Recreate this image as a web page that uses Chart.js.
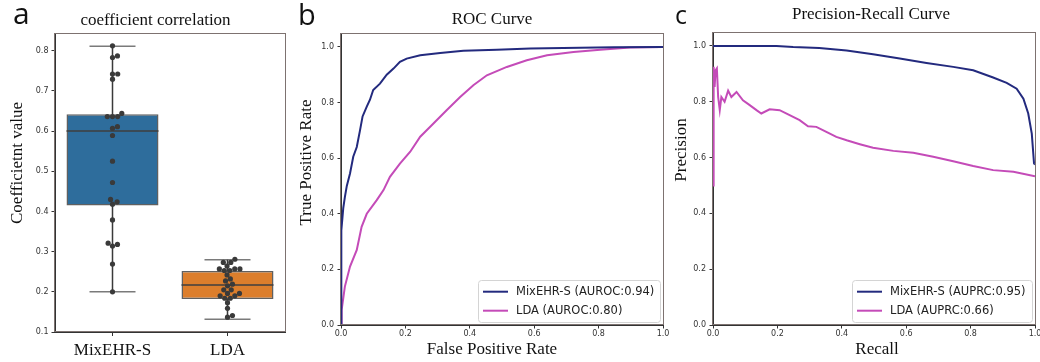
<!DOCTYPE html>
<html lang="en">
<head>
  <meta charset="UTF-8">
  <title>MixEHR-S vs LDA</title>
  <style>
    body { margin: 0; background: #fff; }
    .panel { position: absolute; left: 0; top: 0; }
  </style>
</head>
<body>
<canvas id="coefChart" class="panel" width="1040" height="362"></canvas>
<canvas id="rocChart" class="panel" width="1040" height="362"></canvas>
<canvas id="prChart" class="panel" width="1040" height="362"></canvas>

<script src="https://cdn.jsdelivr.net/npm/chart.js@4.4.1/dist/chart.umd.min.js"></script>
<script>
  // ---- data ----
  const categories = ['MixEHR-S', 'LDA'];
  const boxMin = [0.200, 0.132];
  const boxQ1 = [0.415, 0.182];
  const boxMedian = [0.600, 0.217];
  const boxQ3 = [0.642, 0.252];
  const boxMax = [0.811, 0.280];
  const mixehrCoef = [0.812, 0.787, 0.783, 0.742, 0.742, 0.729, 0.644, 0.636, 0.636, 0.636, 0.611, 0.607,
    0.589, 0.525, 0.472, 0.430, 0.424, 0.418, 0.379, 0.321, 0.318, 0.314, 0.269, 0.200];
  const ldaCoef = [0.281, 0.273, 0.273, 0.264, 0.257, 0.257, 0.257, 0.253, 0.253, 0.242, 0.232, 0.227,
    0.219, 0.215, 0.205, 0.205, 0.196, 0.196, 0.190, 0.190, 0.184, 0.184, 0.173, 0.159, 0.141, 0.137];
  const coefTicks = [0.1, 0.2, 0.3, 0.4, 0.5, 0.6, 0.7, 0.8];

  const models = ['MixEHR-S', 'LDA'];
  const rocAuc = [0.94, 0.80];
  const prAuc = [0.95, 0.66];
  const rateTicks = [0, 0.2, 0.4, 0.6, 0.8, 1.0];

  const rocMixFpr = [0, 0, 0.002, 0.004, 0.007, 0.012, 0.018, 0.028, 0.038, 0.049, 0.059, 0.067, 0.080, 0.090,
    0.100, 0.121, 0.142, 0.163, 0.183, 0.204, 0.246, 0.308, 0.380, 0.484, 0.588, 0.690, 0.847, 1.0];
  const rocMixTpr = [0, 0.25, 0.34, 0.38, 0.42, 0.46, 0.50, 0.545, 0.605, 0.64, 0.70, 0.75, 0.785, 0.81,
    0.845, 0.868, 0.90, 0.922, 0.946, 0.958, 0.97, 0.978, 0.986, 0.99, 0.994, 0.996, 0.999, 1.0];
  const rocLdaFpr = [0, 0.002, 0.012, 0.028, 0.049, 0.064, 0.080, 0.111, 0.132, 0.152, 0.183, 0.215, 0.246,
    0.277, 0.328, 0.370, 0.411, 0.453, 0.515, 0.577, 0.640, 0.722, 0.805, 0.898, 1.0];
  const rocLdaTpr = [0, 0.054, 0.138, 0.21, 0.27, 0.353, 0.40, 0.449, 0.485, 0.533, 0.58, 0.623, 0.677,
    0.713, 0.772, 0.82, 0.862, 0.898, 0.928, 0.952, 0.97, 0.982, 0.99, 0.998, 1.0];

  const prMixRecall = [0, 0.197, 0.249, 0.330, 0.415, 0.497, 0.580, 0.663, 0.746, 0.808, 0.870, 0.912,
    0.943, 0.964, 0.979, 0.990, 0.997, 1.0];
  const prMixPrecision = [1.0, 1.0, 0.996, 0.993, 0.984, 0.97, 0.955, 0.939, 0.925, 0.913, 0.887, 0.868,
    0.847, 0.811, 0.758, 0.686, 0.579, 0.575];
  const prLdaRecall = [0, 0.001, 0.003, 0.005, 0.008, 0.012, 0.016, 0.021, 0.026, 0.036, 0.047, 0.057, 0.073,
    0.093, 0.114, 0.135, 0.150, 0.176, 0.207, 0.238, 0.269, 0.295, 0.321, 0.352, 0.383, 0.415, 0.456, 0.497,
    0.560, 0.622, 0.684, 0.746, 0.808, 0.870, 0.933, 1.0];
  const prLdaPrecision = [0.50, 0.89, 0.925, 0.853, 0.913, 0.92, 0.817, 0.77, 0.817, 0.80, 0.84, 0.817, 0.835,
    0.805, 0.788, 0.77, 0.758, 0.773, 0.77, 0.752, 0.734, 0.712, 0.71, 0.692, 0.674, 0.662, 0.648, 0.635,
    0.624, 0.617, 0.603, 0.587, 0.57, 0.555, 0.549, 0.533];

  // ---- styling ----
  const SERIF = '"Liberation Serif", "Times New Roman", serif';
  const SANS = '"DejaVu Sans", sans-serif';
  const INK = '#333';
  const NAVY = '#232a7e';
  const MAGENTA = '#c44bb8';
  const BOX_COLORS = ['#2e6d9c', '#dc7e2c'];
  const BOX_WIDTH = 0.8;

  Chart.defaults.font.family = SANS;
  Chart.defaults.color = INK;
  Chart.defaults.animation = false;
  Chart.defaults.plugins.legend.display = false;
  Chart.defaults.plugins.tooltip.enabled = false;

  const toPoints = (xs, ys) => xs.map((x, i) => ({x, y: ys[i]}));

  // box around the plotting area
  const framePlugin = {
    id: 'frame',
    afterDraw(chart) {
      const {ctx, chartArea: a} = chart;
      ctx.save();
      ctx.strokeStyle = '#7d7270';
      ctx.lineWidth = 1;
      ctx.strokeRect(Math.round(a.left) - 0.5, Math.round(a.top) + 0.5,
        Math.round(a.right - a.left) + 1, Math.round(a.bottom - a.top) - 1);
      ctx.restore();
    }
  };

  // panel letter, title and axis titles (the figure has them off-centre)
  const panelText = {
    id: 'panelText',
    afterDraw(chart, args, o) {
      const ctx = chart.ctx;
      ctx.save();
      ctx.fillStyle = '#111';
      ctx.font = o.letterFont;
      ctx.textAlign = 'left';
      ctx.textBaseline = 'alphabetic';
      ctx.fillText(o.letter, o.letterX, o.letterY);
      ctx.font = '17px ' + SERIF;
      ctx.textAlign = 'center';
      ctx.textBaseline = 'middle';
      ctx.fillText(o.title, o.titleX, o.titleY);
      if (o.xTitle) ctx.fillText(o.xTitle, o.xTitleX, o.xTitleY);
      ctx.translate(o.yTitleX, o.yTitleY);
      ctx.rotate(-Math.PI / 2);
      ctx.fillText(o.yTitle, 0, 0);
      ctx.restore();
    }
  };

  // matplotlib-like legend in the lower right corner
  const insetLegend = {
    id: 'insetLegend',
    afterDatasetsDraw(chart) {
      const {ctx, chartArea: a} = chart;
      const sets = chart.data.datasets;
      ctx.save();
      ctx.font = '11.5px ' + SANS;
      const textW = Math.max(...sets.map(d => ctx.measureText(d.label).width));
      const w = Math.round(38 + textW + 6), h = 42;
      const x = Math.round(a.right - 3 - w), y = Math.round(a.bottom - 3 - h);
      ctx.beginPath();
      ctx.roundRect(x + 0.5, y + 0.5, w, h, 3);
      ctx.fillStyle = 'rgba(255,255,255,0.85)';
      ctx.fill();
      ctx.strokeStyle = '#d4d4d4';
      ctx.lineWidth = 1;
      ctx.stroke();
      sets.forEach((d, i) => {
        const cy = y + 11.7 + i * 19;
        ctx.strokeStyle = d.borderColor;
        ctx.lineWidth = 2;
        ctx.beginPath();
        ctx.moveTo(x + 5, cy);
        ctx.lineTo(x + 30, cy);
        ctx.stroke();
        ctx.fillStyle = '#222';
        ctx.textAlign = 'left';
        ctx.textBaseline = 'middle';
        ctx.fillText(d.label, x + 38, cy);
      });
      ctx.restore();
    }
  };

  function rateScales() {
    const grid = {drawOnChartArea: false, tickLength: 3.5, color: INK};
    const fixTicks = s => { s.ticks = rateTicks.map(v => ({value: v})); };
    return {
      x: {
        type: 'linear', min: 0, max: 1, grid, border: {color: INK},
        afterBuildTicks: fixTicks,
        ticks: {font: {size: 8}, padding: 1, autoSkip: false, maxRotation: 0, callback: v => v.toFixed(1)},
        afterFit: s => { s.height = 37; s.paddingLeft = 0; s.paddingRight = 0; }
      },
      y: {
        type: 'linear', min: 0, max: 1.05, grid, border: {color: INK},
        afterBuildTicks: fixTicks,
        ticks: {font: {size: 8}, padding: 3.5, autoSkip: false, callback: v => v.toFixed(1)},
        afterFit: s => { s.width = 22; s.paddingTop = 0; s.paddingBottom = 0; }
      }
    };
  }

  function curve(label, color, xs, ys) {
    return {
      label, data: toPoints(xs, ys), showLine: true, borderColor: color, backgroundColor: color,
      borderWidth: 2, pointRadius: 0, tension: 0
    };
  }

  // ---- panel a: box plot with swarm ----
  const whiskerData = [], capData = [], medianData = [];
  categories.forEach((c, i) => {
    const cap = BOX_WIDTH / 4, half = BOX_WIDTH / 2;
    whiskerData.push({x: i, y: boxMin[i]}, {x: i, y: boxQ1[i]}, {x: i, y: null},
      {x: i, y: boxQ3[i]}, {x: i, y: boxMax[i]}, {x: i, y: null});
    capData.push({x: i - cap, y: boxMin[i]}, {x: i + cap, y: boxMin[i]}, {x: i, y: null},
      {x: i - cap, y: boxMax[i]}, {x: i + cap, y: boxMax[i]}, {x: i, y: null});
    medianData.push({x: i - half, y: boxMedian[i]}, {x: i + half, y: boxMedian[i]}, {x: i, y: null});
  });
  const coefSeries = [mixehrCoef, ldaCoef];

  const coefChart = new Chart(document.getElementById('coefChart'), {
    type: 'scatter',
    data: {
      datasets: [
        ...coefSeries.map((vals, i) => ({
          label: categories[i], order: 0, data: vals.map(v => ({x: i, y: v})),
          pointRadius: 2.6, pointBackgroundColor: '#3a3a3a', pointBorderWidth: 0
        })),
        {type: 'scatter', order: 1, data: medianData, showLine: true, spanGaps: false, pointRadius: 0,
          borderColor: '#3f3f3f', borderWidth: 1.5},
        {type: 'scatter', order: 2, data: whiskerData, showLine: true, spanGaps: false, pointRadius: 0,
          borderColor: '#3a3a3a', borderWidth: 1.5},
        {type: 'scatter', order: 2, data: capData, showLine: true, spanGaps: false, pointRadius: 0,
          borderColor: '#7a7a7a', borderWidth: 1.5},
        {type: 'bar', order: 3, data: categories.map((c, i) => ({x: i, y: [boxQ1[i], boxQ3[i]]})),
          backgroundColor: BOX_COLORS, borderColor: '#606060', borderWidth: 1.5, borderSkipped: false,
          categoryPercentage: BOX_WIDTH, barPercentage: 1}
      ]
    },
    options: {
      responsive: false,
      layout: {padding: {left: 26, right: 755, top: 33, bottom: 0}},
      plugins: {
        panelText: {letter: 'a', letterFont: '30px "Open Sans", sans-serif', letterX: 13, letterY: 23.5,
          title: 'coefficient correlation', titleX: 155.5, titleY: 20.5,
          yTitle: 'Coefficietnt value', yTitleX: 17.5, yTitleY: 163}
      },
      scales: {
        x: {
          type: 'linear', min: -0.5, max: 1.5, offset: false,
          grid: {drawOnChartArea: false, tickLength: 4, color: INK, offset: false}, border: {color: INK},
          afterBuildTicks: s => { s.ticks = categories.map((c, i) => ({value: i})); },
          ticks: {font: {family: SERIF, size: 17}, color: '#111', padding: 4.3, autoSkip: false, maxRotation: 0,
            callback: v => categories[v]},
          afterFit: s => { s.height = 30; s.paddingLeft = 0; s.paddingRight = 0; }
        },
        y: {
          type: 'linear', min: 0.1, max: 0.844,
          grid: {drawOnChartArea: false, tickLength: 3.5, color: INK}, border: {color: INK},
          afterBuildTicks: s => { s.ticks = coefTicks.map(v => ({value: v})); },
          ticks: {font: {size: 8}, padding: 3, autoSkip: false, callback: v => v.toFixed(1)},
          afterFit: s => { s.width = 29; s.paddingTop = 0; s.paddingBottom = 0; }
        }
      }
    },
    plugins: [framePlugin, panelText]
  });

  // beeswarm: spread equal-ish values sideways so markers do not overlap
  function swarmOffsets(values, yScale, pxPerUnit, d) {
    const order = values.map((v, i) => i).sort((a, b) => values[a] - values[b]);
    const placed = [];
    const offs = new Array(values.length);
    order.forEach(i => {
      const py = yScale.getPixelForValue(values[i]);
      const near = placed.filter(p => Math.abs(p.py - py) < d);
      const cands = [0];
      near.forEach(p => {
        const dx = Math.sqrt(d * d - (p.py - py) ** 2);
        cands.push(p.px + dx, p.px - dx);
      });
      cands.sort((a, b) => Math.abs(a) - Math.abs(b));
      const px = cands.find(c => near.every(p => (p.px - c) ** 2 + (p.py - py) ** 2 >= d * d - 0.01));
      placed.push({px, py});
      offs[i] = px / pxPerUnit;
    });
    return offs;
  }
  const xs = coefChart.scales.x;
  const pxPerUnit = xs.getPixelForValue(1) - xs.getPixelForValue(0);
  coefSeries.forEach((vals, i) => {
    const offs = swarmOffsets(vals, coefChart.scales.y, pxPerUnit, 5.2);
    coefChart.data.datasets[i].data = vals.map((v, k) => ({x: i + offs[k], y: v}));
  });
  coefChart.update('none');

  // ---- panel b: ROC ----
  new Chart(document.getElementById('rocChart'), {
    type: 'scatter',
    data: {
      datasets: [
        curve(`${models[0]} (AUROC:${rocAuc[0].toFixed(2)})`, NAVY, rocMixFpr, rocMixTpr),
        curve(`${models[1]} (AUROC:${rocAuc[1].toFixed(2)})`, MAGENTA, rocLdaFpr, rocLdaTpr)
      ]
    },
    options: {
      responsive: false,
      layout: {padding: {left: 319, right: 377, top: 33, bottom: 0}},
      plugins: {
        panelText: {letter: 'b', letterFont: '29px "Open Sans", sans-serif', letterX: 298, letterY: 25,
          title: 'ROC Curve', titleX: 492, titleY: 20,
          yTitle: 'True Positive Rate', yTitleX: 307, yTitleY: 162.5,
          xTitle: 'False Positive Rate', xTitleX: 492, xTitleY: 350}
      },
      scales: rateScales()
    },
    plugins: [framePlugin, panelText, insetLegend]
  });

  // ---- panel c: precision-recall ----
  new Chart(document.getElementById('prChart'), {
    type: 'scatter',
    data: {
      datasets: [
        curve(`${models[0]} (AUPRC:${prAuc[0].toFixed(2)})`, NAVY, prMixRecall, prMixPrecision),
        curve(`${models[1]} (AUPRC:${prAuc[1].toFixed(2)})`, MAGENTA, prLdaRecall, prLdaPrecision)
      ]
    },
    options: {
      responsive: false,
      layout: {padding: {left: 691, right: 5, top: 32, bottom: 0}},
      plugins: {
        panelText: {letter: 'c', letterFont: '25px "Open Sans", sans-serif', letterX: 675, letterY: 23.5,
          title: 'Precision-Recall Curve', titleX: 871, titleY: 15,
          yTitle: 'Precision', yTitleX: 682, yTitleY: 150,
          xTitle: 'Recall', xTitleX: 877, xTitleY: 350}
      },
      scales: rateScales()
    },
    plugins: [framePlugin, panelText, insetLegend]
  });
</script>
</body>
</html>
